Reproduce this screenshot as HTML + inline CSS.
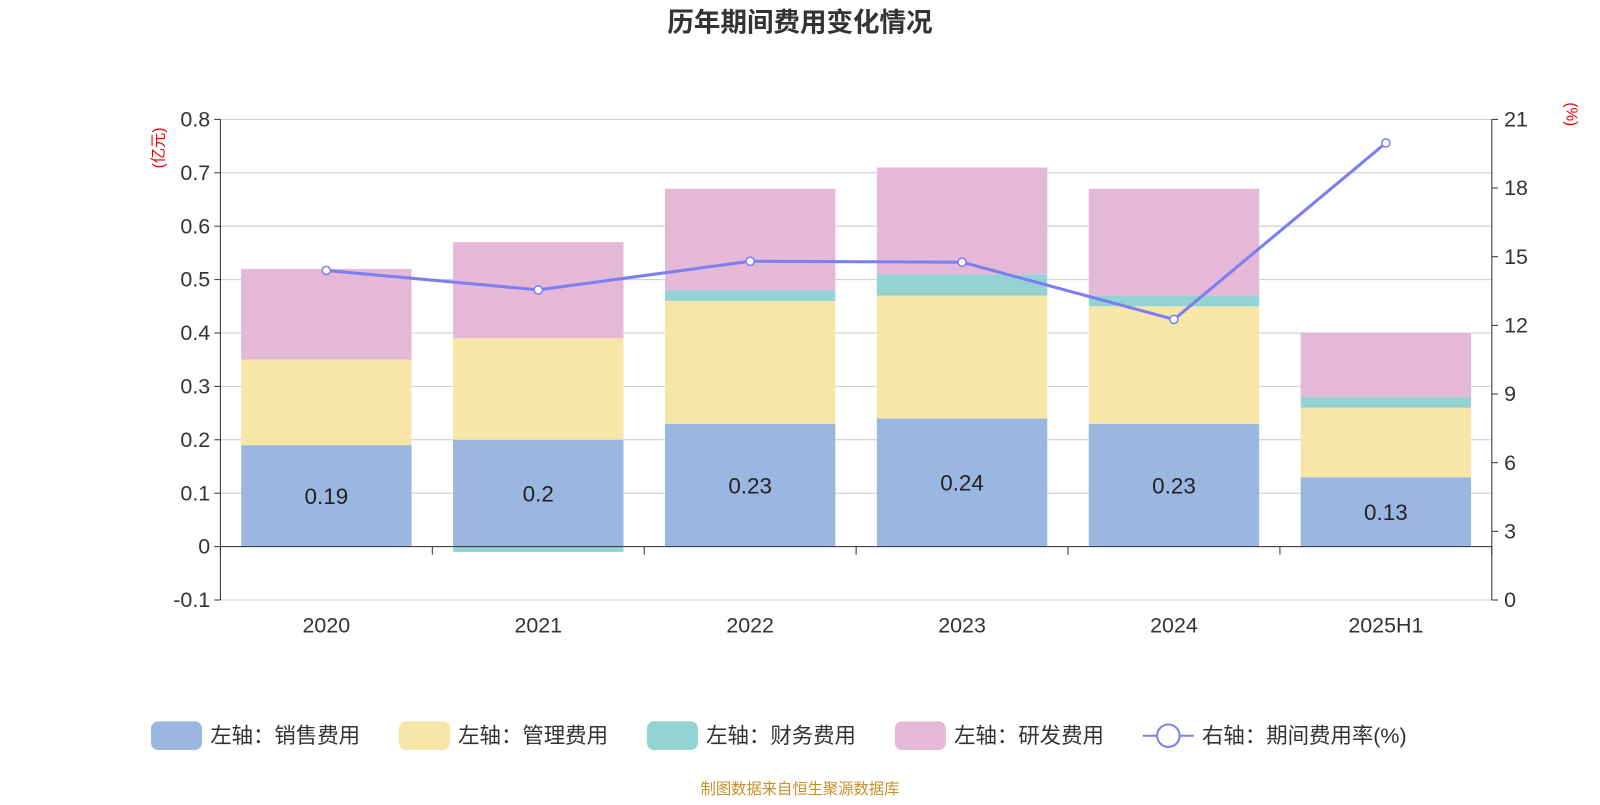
<!DOCTYPE html>
<html><head><meta charset="utf-8">
<style>
body{margin:0;background:#fff;width:1600px;height:800px;overflow:hidden;font-family:"Liberation Sans","Noto Sans CJK SC",sans-serif;}
</style></head>
<body>
<svg id="chart" width="1600" height="800" xmlns="http://www.w3.org/2000/svg" font-family="Liberation Sans, Noto Sans CJK SC, sans-serif">
<g transform="scale(1.0204)">
<text x="784" y="31" text-anchor="middle" font-size="26" font-weight="bold" fill="#333">历年期间费用变化情况</text>
<text transform="translate(160,145) rotate(-90)" text-anchor="middle" font-size="15" fill="#e00">(亿元)</text>
<text transform="translate(1535,112) rotate(90)" text-anchor="middle" font-size="15" fill="#e00">(%)</text>
<g id="grid"></g><g id="bars"></g><g id="axes"></g><g id="line"></g>
<g id="legend"></g>
<text x="784" y="778" text-anchor="middle" font-size="15" fill="#c8902a">制图数据来自恒生聚源数据库</text>
</g>
</svg>
<script>
const categories=["2020","2021","2022","2023","2024","2025H1"];
const sales=[0.19,0.2,0.23,0.24,0.23,0.13];
const admin=[0.16,0.19,0.23,0.23,0.22,0.13];
const finance=[0,-0.01,0.02,0.04,0.02,0.02];
const rnd=[0.17,0.18,0.19,0.20,0.20,0.12];
const rate=[14.4,13.55,14.8,14.76,12.26,19.97];
const leftTicks=[-0.1,0,0.1,0.2,0.3,0.4,0.5,0.6,0.7,0.8];
const rightTicks=[0,3,6,9,12,15,18,21];

const NS="http://www.w3.org/2000/svg";
const X0=216,X1=1462,YT=117,YB=588;
const yL=v=>YB-(v+0.1)/0.9*(YB-YT);
const yR=v=>YB-v/21*(YB-YT);
const step=(X1-X0)/categories.length;
const xC=i=>X0+step*(i+0.5);
const BW=167;
function mk(tag,attrs,parent,text){const e=document.createElementNS(NS,tag);for(const k in attrs)e.setAttribute(k,attrs[k]);if(text!==undefined)e.textContent=text;document.getElementById(parent).appendChild(e);return e;}

leftTicks.forEach(t=>{
  const g=mk('line',{x1:X0,x2:X1,y1:yL(t),y2:yL(t),stroke:'#ccc','stroke-width':1},'grid');
  
  
  const tk=mk('line',{x1:X0-6,x2:X0,y1:yL(t),y2:yL(t),stroke:'#333'},'axes');
  
  
  const l=mk('text',{x:X0-10,y:yL(t)+7,'text-anchor':'end','font-size':21,fill:'#333'},'axes',t===0?'0':String(t));
  
  
});
rightTicks.forEach(t=>{
  const tk=mk('line',{x1:X1,x2:X1+6,y1:yR(t),y2:yR(t),stroke:'#333'},'axes');
  
  
  const l=mk('text',{x:X1+12,y:yR(t)+7,'font-size':21,fill:'#333'},'axes',String(t));
  
  
});
let a=mk('line',{x1:X0,x2:X0,y1:YT,y2:YB,stroke:'#333'},'axes');

a=mk('line',{x1:X1,x2:X1,y1:YT,y2:YB,stroke:'#333'},'axes');

a=mk('line',{x1:X0,x2:X1,y1:yL(0),y2:yL(0),stroke:'#333'},'axes');

for(let i=0;i<=categories.length;i++){
  const t=mk('line',{x1:X0+step*i,x2:X0+step*i,y1:yL(0),y2:yL(0)+8,stroke:'#333'},'axes');
  
  
}
const colors=['#9bb7e1','#f8e6a8','#94d3d3','#e6b8d8'];
const series=[sales,admin,finance,rnd];
const snames=['sales','admin','finance','rnd'];
categories.forEach((c,i)=>{
  let pos=0,neg=0;
  series.forEach((s,k)=>{
    const v=s[i];let y0,y1;
    if(v>=0){y0=pos;y1=pos+v;pos=y1;}else{y0=neg;y1=neg+v;neg=y1;}
    const r=mk('rect',{x:xC(i)-BW/2,y:Math.min(yL(y0),yL(y1)),width:BW,height:Math.abs(yL(y0)-yL(y1)),fill:colors[k]},'bars');
    
    
  });
  const l=mk('text',{x:xC(i),y:(yL(0)+yL(sales[i]))/2+8,'text-anchor':'middle','font-size':22,fill:'#222'},'bars',String(sales[i]));
  
  
  const xl=mk('text',{x:xC(i),y:620,'text-anchor':'middle','font-size':21,fill:'#333'},'axes',c);
  
  
});
const pl=mk('polyline',{points:rate.map((v,i)=>xC(i)+','+yR(v)).join(' '),fill:'none',stroke:'#7b7ff0','stroke-width':3},'line');


rate.forEach((v,i)=>{
  const p=mk('circle',{cx:xC(i),cy:yR(v),r:4,fill:'#fff',stroke:'#7b7ff0','stroke-width':1.5},'line');
  
  
});
const leg=[['左轴：销售费用',148],['左轴：管理费用',391],['左轴：财务费用',634],['左轴：研发费用',877]];
leg.forEach((l,k)=>{
  const r=mk('rect',{x:l[1],y:707,width:50,height:28,rx:7,fill:colors[k]},'legend');
  
  
  const t=mk('text',{x:l[1]+58,y:728,'font-size':21,fill:'#333'},'legend',l[0]);
  
  
});
let ll=mk('line',{x1:1120,x2:1170,y1:721,y2:721,stroke:'#7b7ff0','stroke-width':2},'legend');

ll=mk('circle',{cx:1145,cy:721,r:11,fill:'#fff',stroke:'#7b7ff0','stroke-width':2},'legend');

ll=mk('text',{x:1178,y:728,'font-size':21,fill:'#333'},'legend','右轴：期间费用率(%)');

</script>
</body></html>
